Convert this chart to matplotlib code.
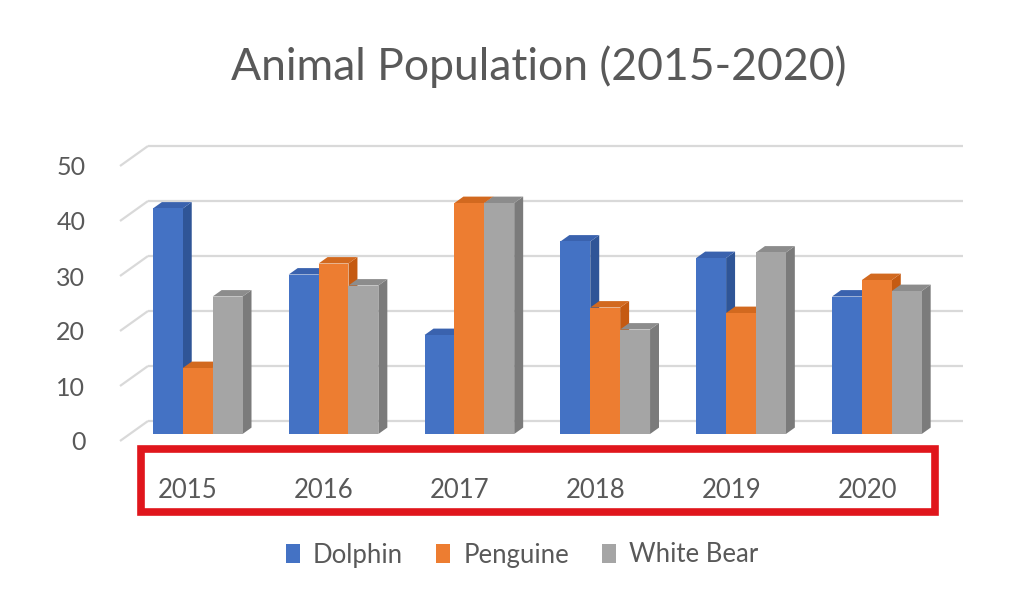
import matplotlib
matplotlib.use("Agg")
import matplotlib.pyplot as plt
from matplotlib.patches import Polygon, Patch, Rectangle

plt.rcParams['font.family'] = ['Lato', 'DejaVu Sans']

# Data
years = ["2015", "2016", "2017", "2018", "2019", "2020"]
series_names = ["Dolphin", "Penguine", "White Bear"]
dolphin = [41, 29, 18, 35, 32, 25]
penguine = [12, 31, 42, 23, 22, 28]
white_bear = [25, 27, 42, 19, 33, 26]
y_ticks = [0, 10, 20, 30, 40, 50]

series = [dolphin, penguine, white_bear]
front_colors = ["#4472C4", "#ED7D31", "#A5A5A5"]
side_colors = ["#2F5597", "#C55A11", "#7B7B7B"]
top_colors = ["#3A62AE", "#D2691F", "#8C8C8C"]
text_gray = "#595959"
grid_gray = "#D9D9D9"

W, H = 1036, 600
fig = plt.figure(figsize=(W / 100, H / 100), dpi=100)
fig.patch.set_facecolor("white")

# plotting plane: x from 120px to 935px, value 0 at 441px and 50 at 166px (from top)
ax = fig.add_axes([120 / W, (H - 441) / H, 815 / W, 275 / H])
ax.set_xlim(-0.5, 5.5)
ax.set_ylim(0, 50)
for s in ax.spines.values():
    s.set_visible(False)
ax.set_facecolor("none")

# oblique depth of the chart box, in data units
DX = 28 / (815 / 6)
DY = 20 / 5.5
# bar placement inside the depth and bar thickness
F_FRONT = 0.35
T_DEPTH = 0.32
BAR_W = 0.22

# gridlines on the side and back walls
for v in y_ticks:
    ax.plot([-0.5, -0.5 + DX], [v, v + DY], color=grid_gray, lw=1.6,
            clip_on=False, zorder=1, solid_capstyle="butt")
    ax.plot([-0.5 + DX, 5.5 + DX], [v + DY, v + DY], color=grid_gray, lw=1.6,
            clip_on=False, zorder=1, solid_capstyle="butt")

# pseudo-3D columns
ox, oy = T_DEPTH * DX, T_DEPTH * DY
for i in range(len(years)):
    for j, vals in enumerate(series):
        x0 = i - 1.5 * BAR_W + j * BAR_W + F_FRONT * DX
        x1 = x0 + BAR_W
        y0 = F_FRONT * DY
        y1 = vals[i] + F_FRONT * DY
        z = 3 + i * 3 + j
        front = Polygon([(x0, y0), (x1, y0), (x1, y1), (x0, y1)],
                        closed=True, fc=front_colors[j], ec="none",
                        clip_on=False, zorder=z)
        side = Polygon([(x1, y0), (x1 + ox, y0 + oy), (x1 + ox, y1 + oy), (x1, y1)],
                       closed=True, fc=side_colors[j], ec="none",
                       clip_on=False, zorder=z)
        top = Polygon([(x0, y1), (x1, y1), (x1 + ox, y1 + oy), (x0 + ox, y1 + oy)],
                      closed=True, fc=top_colors[j], ec="none",
                      clip_on=False, zorder=z)
        for p in (side, top, front):
            ax.add_patch(p)

# axis tick labels
ax.set_yticks(y_ticks)
ax.set_yticklabels([str(t) for t in y_ticks])
ax.set_xticks(range(len(years)))
ax.set_xticklabels(years)
ax.tick_params(axis="y", length=0, pad=25, labelsize=18, labelcolor=text_gray)
ax.tick_params(axis="x", length=0, pad=27, labelsize=18.5, labelcolor=text_gray)

# title
fig.text(0.520, (H - 67) / H, "Animal Population (2015-2020)", ha="center",
         va="center", fontsize=32, color=text_gray)

# red highlight frame around the category labels
fig.patches.append(Rectangle((141 / W, (H - 512) / H), 794 / W, 63 / H,
                             transform=fig.transFigure, fill=False,
                             ec="#E0161C", lw=5.5, zorder=10))

# legend
handles = [Patch(fc=c, ec="none") for c in front_colors]
leg = fig.legend(handles, series_names, loc="center", ncol=3,
                 bbox_to_anchor=(0.504, (H - 555) / H), frameon=False,
                 fontsize=18.5, handlelength=0.55, handleheight=0.8,
                 handletextpad=0.5, columnspacing=1.3)
for t in leg.get_texts():
    t.set_color(text_gray)

fig.savefig("out.png", dpi=100, facecolor="white")
